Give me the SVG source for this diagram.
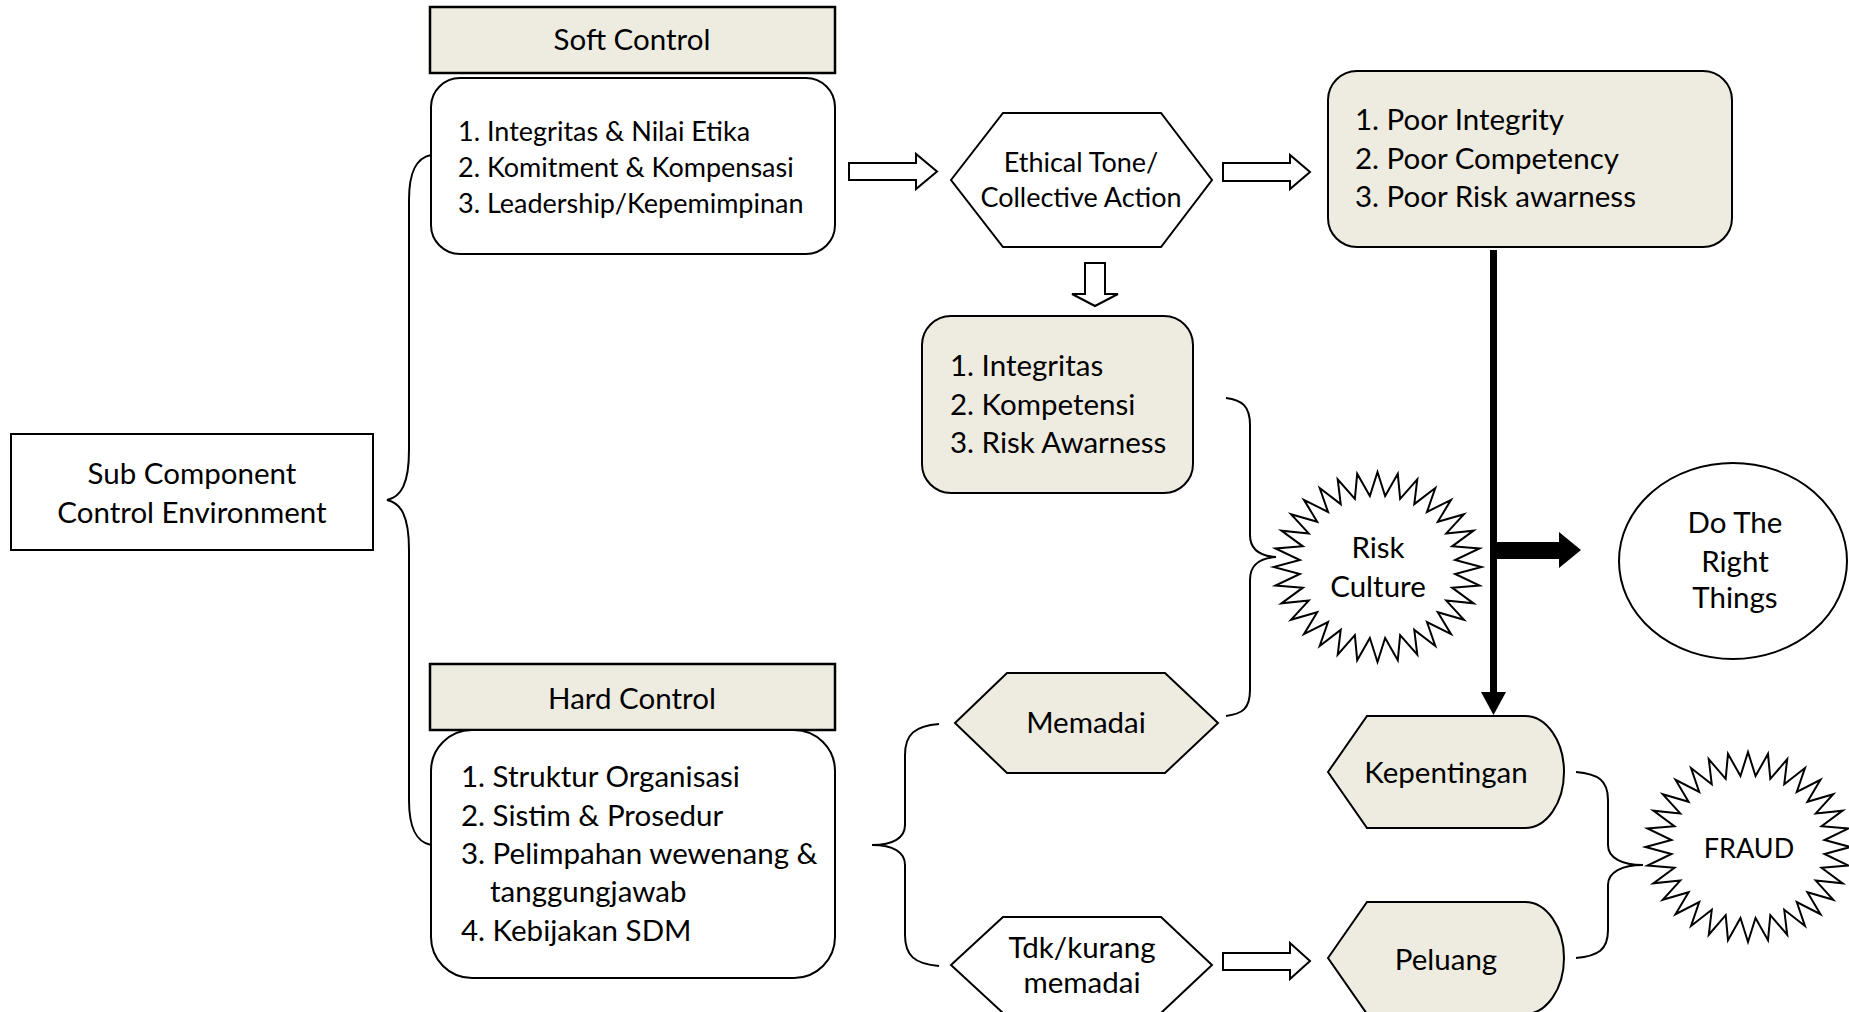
<svg xmlns="http://www.w3.org/2000/svg" xmlns:xlink="http://www.w3.org/1999/xlink" width="1849" height="1012" viewBox="0 0 1849 1012">
<style>
text{font-family:Lato,"Liberation Sans",sans-serif;font-size:29.5px;fill:#000}
text.s{font-size:27px}
.c{text-anchor:middle}
.box{fill:#fff;stroke:#000;stroke-width:2}
.tan{fill:#EEECE1;stroke:#000;stroke-width:2}
.hdr{fill:#EEECE1;stroke:#000;stroke-width:2.5}
.brace{fill:none;stroke:#000;stroke-width:2}
.harrow{fill:#fff;stroke:#000;stroke-width:2;stroke-linejoin:miter}
.thick{fill:none;stroke:#000;stroke-width:7}
.solid{fill:#000;stroke:none}
.star{fill:#fff;stroke:#000;stroke-width:2}
</style>
<defs>
<polygon id="star32" vector-effect="non-scaling-stroke" points="0,-100 7.35,-74.64 19.51,-98.08 21.77,-71.77 38.27,-92.39 35.36,-66.14 55.56,-83.15 47.58,-57.98 70.71,-70.71 57.98,-47.58 83.15,-55.56 66.14,-35.36 92.39,-38.27 71.77,-21.77 98.08,-19.51 74.64,-7.35 100,0 74.64,7.35 98.08,19.51 71.77,21.77 92.39,38.27 66.14,35.36 83.15,55.56 57.98,47.58 70.71,70.71 47.58,57.98 55.56,83.15 35.36,66.14 38.27,92.39 21.77,71.77 19.51,98.08 7.35,74.64 0,100 -7.35,74.64 -19.51,98.08 -21.77,71.77 -38.27,92.39 -35.36,66.14 -55.56,83.15 -47.58,57.98 -70.71,70.71 -57.98,47.58 -83.15,55.56 -66.14,35.36 -92.39,38.27 -71.77,21.77 -98.08,19.51 -74.64,7.35 -100,0 -74.64,-7.35 -98.08,-19.51 -71.77,-21.77 -92.39,-38.27 -66.14,-35.36 -83.15,-55.56 -57.98,-47.58 -70.71,-70.71 -47.58,-57.98 -55.56,-83.15 -35.36,-66.14 -38.27,-92.39 -21.77,-71.77 -19.51,-98.08 -7.35,-74.64"/>
</defs>
<rect width="1849" height="1012" fill="#fff"/>

<g id="connectors">
<path class="brace" d="M431,155 C416,158 409,172 409,200 L409,450 C409,484 401,497 387,500 C401,503 409,516 409,550 L409,800 C409,828 416,842 431,845"/>
<path class="brace" d="M1226,398 C1242,400 1250,406 1250,425 L1250,535 C1250,550 1260,556 1276,557 C1260,558 1250,564 1250,580 L1250,690 C1250,709 1242,714 1226,716"/>
<path class="brace" d="M939,724 C915,726 905,734 905,755 L905,825 C905,838 893,845 872,845 C893,845 905,852 905,865 L905,935 C905,956 915,964 939,966"/>
<path class="brace" d="M1576,772 C1598,774 1608,780 1608,800 L1608,845 C1608,858 1622,865 1643,865 C1622,865 1608,872 1608,885 L1608,930 C1608,950 1598,956 1576,958"/>
<polygon class="harrow" points="849,163 916,163 916,154 937,171.5 916,189 916,180 849,180"/>
<polygon class="harrow" points="1223,163 1290,163 1290,155 1310,172 1290,189 1290,181 1223,181"/>
<polygon class="harrow" points="1085,263 1105,263 1105,294 1118,294 1095,306 1072,294 1085,294"/>
<polygon class="harrow" points="1223,953 1290,953 1290,943 1310,961 1290,979 1290,970 1223,970"/>
<path class="thick" d="M1493.5,250 L1493.5,696"/>
<polygon class="solid" points="1481,692 1506,692 1493.5,715"/>
<polygon class="solid" points="1493,542 1559,542 1559,532 1581,550 1559,568 1559,559 1493,559"/>
</g>

<g id="sub-component">
<rect class="box" x="11" y="434" width="362" height="116"/>
<text class="c" x="192" y="484">Sub Component</text>
<text class="c" x="192" y="523">Control Environment</text>
</g>

<g id="soft-control-header">
<rect class="hdr" x="430" y="7" width="405" height="66"/>
<text class="c" x="632" y="50">Soft Control</text>
</g>

<g id="soft-control-list">
<rect class="box" x="431" y="78" width="404" height="176" rx="29" ry="29"/>
<text class="s" x="458" y="141">1. Integritas &amp; Nilai Etika</text>
<text class="s" x="458" y="177">2. Komitment &amp; Kompensasi</text>
<text class="s" x="458" y="213">3. Leadership/Kepemimpinan</text>
</g>

<g id="hard-control-header">
<rect class="hdr" x="430" y="664" width="405" height="66"/>
<text class="c" x="632" y="709">Hard Control</text>
</g>

<g id="hard-control-list">
<rect class="box" x="431" y="730" width="404" height="248" rx="41" ry="41"/>
<text x="461" y="787">1. Struktur Organisasi</text>
<text x="461" y="826">2. Sistim &amp; Prosedur</text>
<text x="461" y="864">3. Pelimpahan wewenang &amp;</text>
<text x="490" y="902">tanggungjawab</text>
<text x="461" y="941">4. Kebijakan SDM</text>
</g>

<g id="ethical-tone">
<polygon class="box" points="951,180 1003,113 1161,113 1212,180 1161,247 1003,247"/>
<text class="c s" x="1081" y="172">Ethical Tone/</text>
<text class="c s" x="1081" y="207">Collective Action</text>
</g>

<g id="poor-list">
<rect class="tan" x="1328" y="71" width="404" height="176" rx="29" ry="29"/>
<text x="1355" y="130">1. Poor Integrity</text>
<text x="1355" y="169">2. Poor Competency</text>
<text x="1355" y="207">3. Poor Risk awarness</text>
</g>

<g id="integritas-list">
<rect class="tan" x="922" y="316" width="271" height="177" rx="29" ry="29"/>
<text x="950" y="376">1. Integritas</text>
<text x="950" y="415">2. Kompetensi</text>
<text x="950" y="453">3. Risk Awarness</text>
</g>

<g id="risk-culture">
<use xlink:href="#star32" class="star" transform="translate(1377.5,567) scale(1.04,0.95)"/>
<text class="c" x="1378" y="558">Risk</text>
<text class="c" x="1378" y="597">Culture</text>
</g>

<g id="do-the-right-things">
<ellipse class="box" cx="1733" cy="561" rx="114" ry="98"/>
<text class="c" x="1735" y="533">Do The</text>
<text class="c" x="1735" y="572">Right</text>
<text class="c" x="1735" y="608">Things</text>
</g>

<g id="memadai">
<polygon class="tan" points="955,723 1007,673 1165,673 1218,723 1165,773 1007,773"/>
<text class="c" x="1086" y="733">Memadai</text>
</g>

<g id="tdk-kurang-memadai">
<polygon class="box" points="951,965 1003,917 1161,917 1212,965 1161,1013 1003,1013"/>
<text class="c" x="1082" y="958">Tdk/kurang</text>
<text class="c" x="1082" y="993">memadai</text>
</g>

<g id="kepentingan">
<path class="tan" d="M1328,772 L1367,716 L1525,716 A39,56 0 0 1 1525,828 L1367,828 Z"/>
<text class="c" x="1446" y="783">Kepentingan</text>
</g>

<g id="peluang">
<path class="tan" d="M1328,958 L1367,902 L1525,902 A39,56 0 0 1 1525,1014 L1367,1014 Z"/>
<text class="c" x="1446" y="970">Peluang</text>
</g>

<g id="fraud">
<use xlink:href="#star32" class="star" transform="translate(1748,847) scale(1.025,0.95)"/>
<text class="c s" x="1749" y="858">FRAUD</text>
</g>
</svg>
